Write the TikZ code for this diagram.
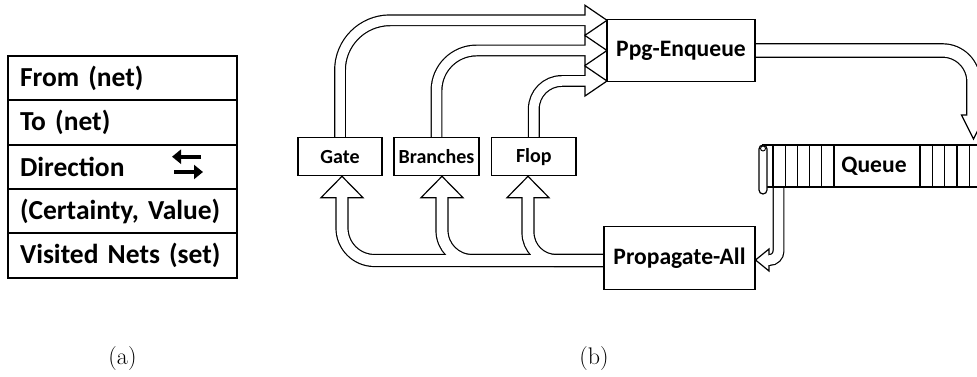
\documentclass[tikz,border=0pt]{standalone}
\usepackage{fontspec}
\newfontfamily\calib{Carlito}
\usetikzlibrary{arrows.meta,calc}

% block-arrow head: tip, rotation, length, half width
\newcommand\blockhead[4]{%
  \draw[head,shift={(#1)},rotate=#2] (0,0) -- (-#3,-#4) -- (-#3,#4) -- cycle;}

\tikzset{
  x=1pt, y=-1pt,
  box/.style={draw, line width=1.3pt, fill=white, inner sep=0pt,
    minimum height=38pt, font=\calib\bfseries\fontsize{20}{22}\selectfont},
  bigbox/.style={box, minimum height=62.4pt,
    font=\calib\bfseries\fontsize{23.6}{26}\selectfont},
  row/.style={draw, line width=2pt, inner xsep=12pt, inner ysep=0pt,
    text width=205pt, minimum height=44.3pt, align=left,
    font=\calib\bfseries\fontsize{27.5}{30}\selectfont},
  head/.style={draw, fill=white, line width=1.2pt, line join=miter},
  qline/.style={line width=1.2pt},
  dirarrow/.style={line width=3.6pt, -{Triangle[length=9pt,width=14pt]}},
  caption/.style={font=\rmfamily\fontsize{24}{28}\selectfont, inner sep=0pt}
}

% shaft styles for the two passes (outline, then body)
\newcommand\outlinepass{\tikzset{
  shaft/.style={draw=black, line cap=butt},
  narrow/.style={shaft, line width=11.9pt},
  channel/.style={shaft, line width=13.2pt},
  wide/.style={shaft, line width=14.6pt}}}
\newcommand\bodypass{\tikzset{
  shaft/.style={draw=white, line cap=butt},
  narrow/.style={shaft, line width=9.5pt},
  channel/.style={shaft, line width=10.8pt},
  wide/.style={shaft, line width=12.2pt}}}

\begin{document}
\begin{tikzpicture}
\useasboundingbox (0,0) rectangle (977,377);
\clip (0,0) rectangle (977,377);

% ---------- (a) record layout ----------
\node[row] (from) at (122.5,78.2)  {From (net)};
\node[row] (to)   at (122.5,122.5) {To (net)};
\node[row] (dir)  at (122.5,166.8) {Direction};
\node[row] (cert) at (122.5,211.1) {(Certainty, Value)};
\node[row] (vis)  at (122.5,255.4) {Visited Nets (set)};
\draw[dirarrow] (201,156.7) -- (172,156.7);
\draw[dirarrow] (174,172) -- (203,172);
\node[caption] (capa) at (122.5,359) {(a)};

% ---------- (b) propagation loop ----------
\node[box, minimum width=84pt]   (gate)     at (340,156.8)   {Gate};
\node[box, minimum width=85pt]   (branches) at (436.5,156.8) {Branches};
\node[box, minimum width=84.3pt] (flop)     at (533.8,156.8) {Flop};
\node[bigbox, minimum width=148pt] (ppg)  at (681,50.5)  {Ppg-Enqueue};
\node[bigbox, minimum width=151pt] (prop) at (679.5,258) {Propagate-All};
\node[caption] (capb) at (594,359) {(b)};

% arrow tips and shaft ends
\coordinate (gin) at (607,20.3);
\coordinate (bin) at (607,50.5);
\coordinate (fin) at (607,81);
\coordinate (pout) at (604,260.5);
\coordinate (gup) at (342,176.3);
\coordinate (bup) at (442,176.3);
\coordinate (fup) at (528,176.3);
\coordinate (qtip) at (973.5,139);
\coordinate (qout) at (778.5,187);
\coordinate (ptip) at (755.5,260);

\newcommand\shafts{%
  \draw[narrow, rounded corners=50pt] (gate.north) |- ($(gin)+(-20.5,0)$);
  \draw[narrow, rounded corners=40pt] (branches.north) |- ($(bin)+(-20.5,0)$);
  \draw[narrow, rounded corners=28pt] (flop.north) |- ($(fin)+(-20.5,0)$);
  \draw[channel, rounded corners=32.5pt] (pout) -| ($(gup)+(0,19.9)$);
  \draw[channel, rounded corners=30pt] (pout) -| ($(bup)+(0,19.9)$);
  \draw[channel, rounded corners=28pt] (pout) -| ($(fup)+(0,19.9)$);
  \draw[wide, rounded corners=31pt] (ppg.east) -| ($(qtip)+(0,-22.5)$);
  \draw[narrow, rounded corners=9pt] (qout) |- ($(ptip)+(12,0)$);
}

\outlinepass
\shafts
\blockhead{gin}{0}{22}{15}
\blockhead{bin}{0}{22}{15}
\blockhead{fin}{0}{22}{15}
\blockhead{gup}{90}{21.4}{21}
\blockhead{bup}{90}{21.4}{21}
\blockhead{fup}{90}{21.4}{21}
\blockhead{qtip}{-90}{24}{12}
\blockhead{ptip}{180}{13.5}{11}
\bodypass
\shafts

% boxes again, over the shaft ends
\node[box, minimum width=84pt]   at (gate)     {Gate};
\node[box, minimum width=85pt]   at (branches) {Branches};
\node[box, minimum width=84.3pt] at (flop)     {Flop};
\node[bigbox, minimum width=148pt] at (ppg)  {Ppg-Enqueue};
\node[bigbox, minimum width=151pt] at (prop) {Propagate-All};

% queue drawn as a scroll with cells
\node[draw, qline, fill=white, minimum width=227pt, minimum height=42pt,
      inner sep=0pt] (queue) at (876.5,166) {};
\foreach \cx in {773,785.2,797.4,809.6,821.8,834,920,932.3,944.6,956.9,969.2,981.5}
  \draw[qline] (\cx,145) -- (\cx,187);
\node[font=\calib\bfseries\fontsize{23.6}{26}\selectfont, inner sep=0pt]
  (qlabel) at (874,166) {Queue};
\draw[qline, fill=white, rounded corners=4pt] (759,145) rectangle (767,194);
\draw[line width=0.9pt, fill=white] (763,148.5) circle (2.5pt);
\end{tikzpicture}
\end{document}
